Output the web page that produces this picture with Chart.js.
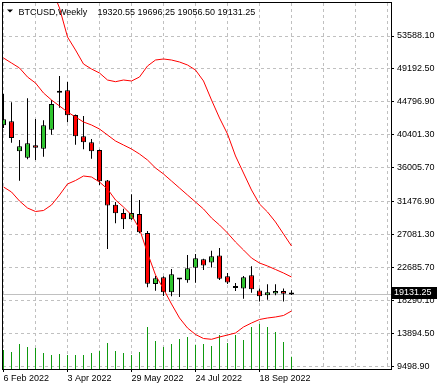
<!DOCTYPE html>
<html>
<head>
<meta charset="utf-8">
<script src="https://cdn.jsdelivr.net/npm/chart.js@4.4.1/dist/chart.umd.min.js"></script>
<style>
  html, body { margin: 0; padding: 0; background: #fff; }
  canvas { display: block; }
</style>
</head>
<body>
<canvas id="chart" width="442" height="390"></canvas>
<script>
'use strict';

/* ── data: BTCUSD weekly candles ── */
const symbol = 'BTCUSD,Weekly';

const weeks = [
  '6 Feb 2022', '13 Feb 2022', '20 Feb 2022', '27 Feb 2022', '6 Mar 2022', '13 Mar 2022',
  '20 Mar 2022', '27 Mar 2022', '3 Apr 2022', '10 Apr 2022', '17 Apr 2022', '24 Apr 2022',
  '1 May 2022', '8 May 2022', '15 May 2022', '22 May 2022', '29 May 2022', '5 Jun 2022',
  '12 Jun 2022', '19 Jun 2022', '26 Jun 2022', '3 Jul 2022', '10 Jul 2022', '17 Jul 2022',
  '24 Jul 2022', '31 Jul 2022', '7 Aug 2022', '14 Aug 2022', '21 Aug 2022', '28 Aug 2022',
  '4 Sep 2022', '11 Sep 2022', '18 Sep 2022', '25 Sep 2022', '2 Oct 2022', '9 Oct 2022',
  '16 Oct 2022'
];

const opens  = [41683, 42216, 38216, 37363, 39016, 38563, 41096, 46016, 46349, 43056, 40216, 39416,
                38390, 34323, 31097, 29990, 29151, 29857, 27324, 20525, 21418, 19418, 21125, 21018,
                22698, 23818, 23391, 24324, 21551, 19991, 19925, 21685, 19658, 19018, 19258, 19592,
                19320.55];
const highs  = [45855, 44749, 39723, 45282, 42523, 42349, 45056, 48255, 47455, 43122, 42922, 39856,
                38456, 34390, 31457, 30564, 32484, 31724, 27591, 21591, 21570, 22525, 21325, 24391,
                24524, 23884, 24964, 25324, 21991, 20658, 21591, 22885, 19925, 20485, 20485, 19925,
                19696.25];
const lows   = [41323, 39363, 34297, 37150, 37056, 37496, 40429, 44029, 42083, 39096, 38483, 37230,
                33723, 25191, 28617, 27857, 29057, 27284, 20085, 19632, 18925, 18900, 18792, 20698,
                20698, 22391, 22725, 21058, 20525, 19592, 18565, 19352, 18192, 18432, 19018, 18192,
                19056.50];
const closes = [42483, 39989, 38883, 39283, 38696, 41683, 44522, 46016, 43016, 40216, 39416, 38216,
                34217, 30990, 29950, 29151, 29990, 27417, 20565, 21285, 19418, 21818, 21125, 22618,
                23951, 22991, 24218, 21231, 20725, 19991, 21418, 19818, 18885, 19418, 19592, 19232,
                19131.25];
const volumes = [19000, 17000, 25000, 22000, 21000, 16000, 14000, 15000, 14000, 14000, 14000, 16000,
                 18300, 26000, 18000, 16000, 14000, 17000, 42000, 28000, 22000, 25000, 30000, 32000,
                 24300, 25000, 23000, 34000, 26000, 34000, 29000, 42000, 45000, 42000, 37000, 27000,
                 12300];

/* Bollinger bands (20, 2) */
const bbUpper  = [67987, 67453, 67187, 65987, 64787, 62387, 59987, 57321, 53455, 51722, 49855, 49189,
                  48655, 47722, 47495, 47722, 47589, 48122, 49589, 50388, 50522, 50388, 50122, 49722,
                  49055, 47589, 45056, 42656, 40523, 37590, 35323, 33057, 31190, 30124, 28791, 27191,
                  25591];
const bbMiddle = [50655, 49988, 49322, 48122, 47322, 45989, 45056, 44256, 43456, 42789, 42123, 41723,
                  41189, 40389, 39590, 39056, 38523, 37856, 37056, 35990, 35190, 34257, 33323, 32390,
                  31457, 30524, 29324, 28391, 27324, 26124, 25058, 23991, 23324, 22925, 22458, 21991,
                  21458];
const bbLower  = [33457, 32790, 31590, 30657, 30190, 30324, 31057, 32390, 33857, 34323, 34923, 34790,
                  34123, 33190, 31724, 30790, 29724, 27857, 24658, 21725, 19858, 17858, 15992, 14659,
                  13792, 13259, 13152, 13459, 13725, 13992, 14792, 15325, 15792, 15992, 16125, 16325,
                  16925];

/* axes */
const priceTicks   = [9498.90, 13894.50, 18290.10, 22685.70, 27081.30, 31476.90,
                      36005.70, 40401.30, 44796.90, 49192.50, 53588.10];
const xGridWeeks   = [0, 4, 8, 12, 16, 20, 24, 28, 32, 36, 40, 44, 48];
const xLabelWeeks  = [0, 8, 16, 24, 32];

/* ── style ── */
const FONT   = "'Liberation Sans', Arial, sans-serif";
const BULL   = '#2fc52f';
const BEAR   = '#ff0000';
const BAND   = '#ff0000';
const GRID   = '#c0c0c0';
const VOLCLR = '#0f9a0f';

Chart.defaults.font.family = FONT;
Chart.defaults.font.size   = 9;
Chart.defaults.color       = '#000';

const idx = weeks.map((_, i) => i);
const last = weeks.length - 1;

function candleColor(i) {
  if (closes[i] > opens[i]) return BULL;
  if (closes[i] < opens[i]) return BEAR;
  return '#000';
}

function bandSet(label, values) {
  return {
    type: 'line', label,
    data: idx.map(i => ({ x: i, y: values[i] })),
    borderColor: BAND, borderWidth: 1,
    pointRadius: 0, tension: 0, fill: false,
    order: 0
  };
}

/* axis boxes keep a fixed size and do not push the plot area in */
function fixBox(scale, size) {
  if (scale.isHorizontal()) scale.height = size;
  else scale.width = size;
  scale.paddingLeft = scale.paddingRight = scale.paddingTop = scale.paddingBottom = 0;
}

/* frame, header, current price line and price label */
const terminalDecor = {
  id: 'terminalDecor',
  beforeDatasetsDraw(chart) {
    const { ctx, chartArea: a, scales } = chart;
    const py = Math.round(scales.y.getPixelForValue(closes[last])) + 0.5;
    ctx.save();
    ctx.strokeStyle = '#c0c0c0';
    ctx.lineWidth = 1;
    ctx.beginPath();
    ctx.moveTo(a.left, py);
    ctx.lineTo(a.right, py);
    ctx.stroke();
    ctx.restore();
  },
  afterDraw(chart) {
    const { ctx, chartArea: a, scales } = chart;
    ctx.save();
    // frame top / left
    ctx.strokeStyle = '#000';
    ctx.lineWidth = 1;
    ctx.beginPath();
    ctx.moveTo(a.left - 1, a.top - 0.5);
    ctx.lineTo(a.right + 1, a.top - 0.5);
    ctx.moveTo(a.left - 0.5, a.top - 1);
    ctx.lineTo(a.left - 0.5, a.bottom + 1);
    ctx.stroke();

    // header
    ctx.fillStyle = '#000';
    ctx.beginPath();
    ctx.moveTo(7, 9.5);
    ctx.lineTo(13, 9.5);
    ctx.lineTo(10, 12.5);
    ctx.closePath();
    ctx.fill();
    ctx.font = '9px ' + FONT;
    ctx.textBaseline = 'alphabetic';
    ctx.textAlign = 'left';
    ctx.fillText(symbol, 18.5, 15);
    const ohlc = [opens[last], highs[last], lows[last], closes[last]].map(v => v.toFixed(2)).join(' ');
    ctx.fillText(ohlc, 97.5, 15);

    // current price label
    const py = scales.y.getPixelForValue(closes[last]);
    ctx.fillStyle = '#000';
    ctx.fillRect(a.right + 1, Math.round(py) - 7, 45, 12);
    ctx.fillStyle = '#fff';
    ctx.fillText(closes[last].toFixed(2), a.right + 3, Math.round(py) + 1);
    ctx.restore();
  }
};

new Chart(document.getElementById('chart'), {
  type: 'bar',
  data: {
    datasets: [
      bandSet('BB upper', bbUpper),
      bandSet('BB middle', bbMiddle),
      bandSet('BB lower', bbLower),
      {
        label: 'Body',
        data: idx.map(i => ({ x: i, y: [opens[i], closes[i]] })),
        backgroundColor: idx.map(candleColor),
        borderColor: '#000', borderWidth: 1, borderSkipped: false,
        barThickness: 5, minBarLength: 2, grouped: false, inflateAmount: 0,
        order: 1
      },
      {
        label: 'Wick',
        data: idx.map(i => ({ x: i, y: [lows[i], highs[i]] })),
        backgroundColor: '#000', borderWidth: 0,
        barThickness: 1, grouped: false, inflateAmount: 0,
        order: 2
      },
      {
        label: 'Volume', yAxisID: 'yv',
        data: idx.map(i => ({ x: i, y: volumes[i] })),
        backgroundColor: VOLCLR, borderWidth: 0,
        barThickness: 1, grouped: false, inflateAmount: 0,
        order: 3
      }
    ]
  },
  options: {
    responsive: false,
    animation: false,
    layout: { padding: { left: 3, top: 3, right: 0, bottom: 0 } },
    plugins: { legend: { display: false }, tooltip: { enabled: false } },
    scales: {
      x: {
        type: 'linear', min: -0.0625, max: 48.4375, offset: false,
        afterBuildTicks: s => { s.ticks = xGridWeeks.map(value => ({ value })); },
        afterFit: s => fixBox(s, 21),
        grid: {
          color: GRID, offset: false, tickLength: 3, tickWidth: 1,
          tickColor: c => (c.tick && xLabelWeeks.includes(c.tick.value)) ? '#000' : 'rgba(0,0,0,0)'
        },
        border: { display: true, color: '#000', width: 1, dash: [3, 3] },
        ticks: {
          autoSkip: false, maxRotation: 0, align: 'start', padding: 1,
          callback: v => xLabelWeeks.includes(v) ? weeks[v] : ''
        }
      },
      y: {
        position: 'right', min: 9192.3, max: 57987.7,
        afterBuildTicks: s => { s.ticks = priceTicks.map(value => ({ value })); },
        afterFit: s => fixBox(s, 51),
        grid: { color: GRID, tickLength: 3, tickColor: '#000', tickWidth: 1 },
        border: { display: true, color: '#000', width: 1, dash: [3, 3] },
        ticks: { padding: 3, callback: v => v.toFixed(2) }
      },
      yv: { display: false, min: 0, max: 366000 }
    }
  },
  plugins: [terminalDecor]
});
</script>
</body>
</html>
